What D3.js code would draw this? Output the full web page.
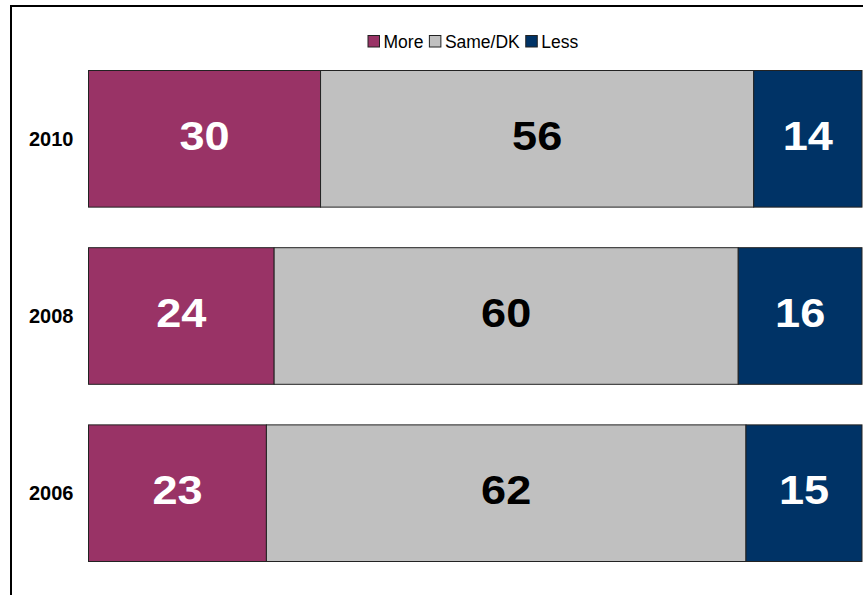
<!DOCTYPE html>
<html>
<head>
<meta charset="utf-8">
<script src="https://cdn.jsdelivr.net/npm/d3@7"></script>
<style>
  body { margin: 0; background: #fff; }
  svg { display: block; font-family: Arial, "Liberation Sans", sans-serif; }
</style>
</head>
<body>
<div id="chart"></div>
<script>
// data
const years = ["2010", "2008", "2006"];
const seriesNames = ["More", "Same/DK", "Less"];
const moreValues = [30, 24, 23];
const sameValues = [56, 60, 62];
const lessValues = [14, 16, 15];
const seriesColors = ["#993366", "#c0c0c0", "#003366"];
const labelColors = ["#ffffff", "#000000", "#ffffff"];

let svgWidth = 863;
let svgHeight = 595;

const rows = years.map((y, i) => ({
    year: y, More: moreValues[i], "Same/DK": sameValues[i], Less: lessValues[i]
}));

const svg = d3.select("#chart")
    .append("svg")
    .attr("width", svgWidth)
    .attr("height", svgHeight);

// frame (runs past right/bottom edge)
svg.append("rect")
    .attr("x", 11)
    .attr("y", 6)
    .attr("width", 1000)
    .attr("height", 1000)
    .attr("fill", "none")
    .attr("stroke", "#000")
    .attr("stroke-width", 2);

const x = d3.scaleLinear().domain([0, 100]).range([88.5, 862]);
const y = d3.scaleBand().domain(years).range([70.5, 561.5]).paddingInner(0.229).paddingOuter(0);

const stacked = d3.stack().keys(seriesNames)(rows);

const layers = svg.selectAll(".layer")
    .data(stacked)
    .enter()
    .append("g")
    .attr("class", "layer");

layers.selectAll("rect")
    .data(d => d)
    .enter()
    .append("rect")
    .attr("x", d => x(d[0]))
    .attr("y", d => y(d.data.year))
    .attr("width", d => x(d[1]) - x(d[0]))
    .attr("height", y.bandwidth())
    .attr("fill", function() { return seriesColors[d3.select(this.parentNode).datum().index]; })
    .attr("stroke", "#222")
    .attr("stroke-width", 1);

// value labels (slightly wide digits, as in the original)
layers.each(function(layer) {
    d3.select(this).selectAll("text")
        .data(layer)
        .enter()
        .append("text")
        .attr("transform", d => `translate(${(x(d[0]) + x(d[1])) / 2}, ${y(d.data.year) + y.bandwidth() / 2 - 3}) scale(1.1, 1)`)
        .attr("text-anchor", "middle")
        .attr("dominant-baseline", "central")
        .attr("font-size", 41)
        .attr("font-weight", "bold")
        .attr("fill", labelColors[layer.index])
        .text(d => d[1] - d[0]);
});

// year labels
svg.selectAll(".yearLabel")
    .data(years)
    .enter()
    .append("text")
    .attr("class", "yearLabel")
    .attr("x", 73.5)
    .attr("y", d => y(d) + y.bandwidth() / 2)
    .attr("text-anchor", "end")
    .attr("dominant-baseline", "central")
    .attr("font-size", 20)
    .attr("font-weight", "bold")
    .text(d => d);

// legend
const legend = svg.append("g").attr("class", "legend");
let lx = 368;
seriesNames.forEach((name, i) => {
    legend.append("rect")
        .attr("x", lx)
        .attr("y", 35.5)
        .attr("width", 11.5)
        .attr("height", 11.5)
        .attr("fill", seriesColors[i])
        .attr("stroke", "#222")
        .attr("stroke-width", 1);
    const t = legend.append("text")
        .attr("x", lx + 15.5)
        .attr("y", 41.5)
        .attr("dominant-baseline", "central")
        .attr("font-size", 17.5)
        .text(name);
    lx += 15.5 + t.node().getComputedTextLength() + 6;
});
</script>
</body>
</html>
